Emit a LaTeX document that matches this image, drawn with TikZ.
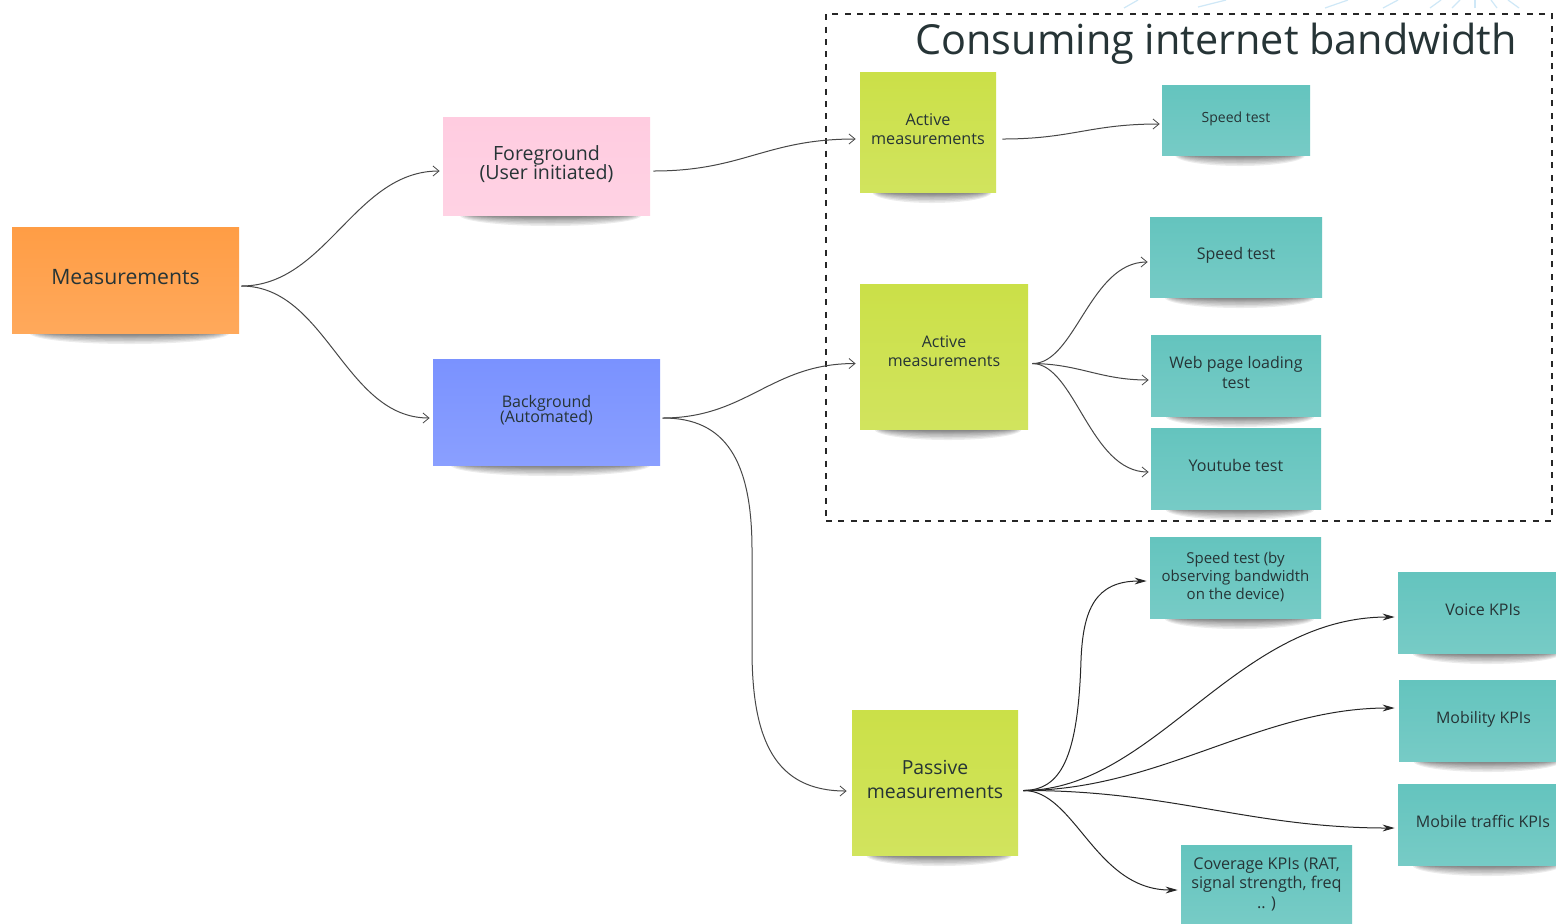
\documentclass[tikz,border=0pt]{standalone}
\usepackage{fontspec}
\setmainfont{Open Sans}
\usetikzlibrary{arrows.meta,calc}
\definecolor{cOrange}{HTML}{FF9D45}
\definecolor{cPink}{HTML}{FFCCE0}
\definecolor{cBlue}{HTML}{7A92FF}
\definecolor{cLime}{HTML}{CBE048}
\definecolor{cTeal}{HTML}{64C4BE}
\definecolor{cInk}{HTML}{263436}
\definecolor{cFrag}{HTML}{CFE8F7}
\tikzset{
  x=0.5pt,y=-0.5pt,
  note/.style={inner sep=0pt,align=center,text=cInk},
  conn/.style={draw=black!72,line width=0.5pt,-{Straight Barb[length=3pt,width=5pt,line width=0.4pt]}},
  connb/.style={draw=black!85,line width=0.5pt,-{Stealth[length=6pt,width=3.4pt]}},
  frame/.style={draw=black!85,line width=0.7pt,dashed,dash pattern=on 3pt off 3.2pt},
  frag/.style={draw=cFrag,line width=0.6pt}
}
% #1 name, #2 x1, #3 y1, #4 x2, #5 y2, #6 colour, #7 font size, #8 text, #9 text y offset
\newcommand{\stickynote}[9]{%
  \pgfmathsetmacro{\cxx}{(#2+#4)/2}%
  \pgfmathsetmacro{\wdd}{#4-#2}%
  \pgfmathsetmacro{\htt}{#5-#3}%
  \pgfmathsetmacro{\lss}{#7*1.2}%
  \foreach \ff/\hh in {0.88/11,0.86/9.5,0.84/8,0.82/6.5,0.80/5,0.78/4,0.75/3,0.70/2}{%
    \fill[black,opacity=0.075] ({\cxx+4},#5) ellipse [x radius={\wdd*\ff/2},y radius=\hh];
  }%
  \shade[top color=#6,bottom color=#6!88!white] (#2,#3) rectangle (#4,#5);%
  \node[note,minimum width={\wdd*0.5pt},minimum height={\htt*0.5pt}] (#1) at ({\cxx},{(#3+#5)/2}) {};%
  \node[note,font=\fontsize{#7}{\lss}\selectfont] at ($(#1.center)+(0,#9)$) {#8};%
}
\begin{document}
\begin{tikzpicture}
\useasboundingbox (0,0) rectangle (1556,923);
\fill[white] (0,0) rectangle (1556,923);
% faint fragments at the top edge
\draw[frag] (1124,8) -- (1138,0);
\draw[frag] (1198,7) -- (1226,0);
\draw[frag] (1325,8) -- (1348,0);
\draw[frag] (1383,8) -- (1398,0);
\draw[frag] (1430,8) -- (1441,0);
\draw[frag] (1452,8) -- (1460,0);
\draw[frag] (1475,8) -- (1475,0);
\draw[frag] (1497,8) -- (1491,0);
\draw[frag] (1519,8) -- (1508,0);
% frame
\node[frame,minimum width=363pt,minimum height=253.5pt,inner sep=0pt] (frame) at (1189,267.5) {};
\node[inner sep=0pt,text=cInk,font=\fontsize{20.7}{24}\selectfont] (title) at (1216,44) {Consuming internet bandwidth};
% notes
\stickynote{meas}{12}{227}{239}{333}{cOrange}{10.6}{Measurements}{-3}
\stickynote{fg}{443}{117}{650}{215}{cPink}{9.8}{Foreground\\[-2.2pt](User initiated)}{-1.5}
\stickynote{bg}{433}{359}{660}{465}{cBlue}{8}{Background\\[-2.1pt](Automated)}{-1.5}
\stickynote{actA}{860}{72}{996}{192}{cLime}{8.1}{Active\\measurements}{-3}
\stickynote{spdA}{1162}{85}{1310}{155}{cTeal}{7}{Speed test}{-1}
\stickynote{actB}{860}{284}{1028}{429}{cLime}{8}{Active\\measurements}{-5}
\stickynote{spdB}{1150}{217}{1322}{297}{cTeal}{8}{Speed test}{-2}
\stickynote{web}{1151}{335}{1321}{416}{cTeal}{8}{Web page loading\\test}{-3}
\stickynote{yt}{1151}{428}{1321}{509}{cTeal}{8.05}{Youtube test}{-3.5}
\stickynote{spdC}{1150}{537}{1321}{618}{cTeal}{7.5}{Speed test (by\\observing bandwidth\\on the device)}{-1}
\stickynote{pass}{852}{710}{1018}{855}{cLime}{9.7}{Passive\\measurements}{-3}
\stickynote{voice}{1398}{572}{1568}{653}{cTeal}{8}{Voice KPIs}{-3}
\stickynote{mob}{1399}{680}{1568}{761}{cTeal}{7.95}{Mobility KPIs}{-1}
\stickynote{traf}{1398}{784}{1568}{865}{cTeal}{8}{Mobile traffic KPIs}{-3}
\stickynote{cov}{1181}{845}{1352}{923}{cTeal}{8.1}{Coverage KPIs (RAT,\\signal strength, freq\\.. )}{0}
% connectors
\coordinate (busA) at (752,550);
\coordinate (busB) at (752,650);
\coordinate (spdTurn) at (1081,660);
\draw[conn] ([shift={(2,6)}]meas.east) .. controls +(85,0) and +(-85,0) .. ([shift={(-3,5)}]fg.west);
\draw[conn] ([shift={(2,6)}]meas.east) .. controls +(85,0) and +(-85,0) .. ([shift={(-3,6)}]bg.west);
\draw[conn] ([shift={(3,5)}]fg.east) .. controls +(90,0) and +(-90,0) .. ([shift={(-4,7)}]actA.west);
\draw[conn] ([shift={(2,6)}]bg.east) .. controls +(85,0) and +(-85,0) .. ([shift={(-4,7)}]actB.west);
\draw[conn] ([shift={(6,7)}]actA.east) .. controls +(70,0) and +(-70,0) .. ([shift={(-2,4)}]spdA.west);
\draw[conn] ([shift={(4,7)}]actB.east) .. controls (1075,364) and (1090,262) .. ([shift={(-2,5)}]spdB.west);
\draw[conn] ([shift={(4,7)}]actB.east) .. controls (1080,364) and (1100,380) .. ([shift={(-2,4.5)}]web.west);
\draw[conn] ([shift={(4,7)}]actB.east) .. controls (1075,364) and (1090,472) .. ([shift={(-2,3.5)}]yt.west);
\draw[connb] ([shift={(5,8)}]pass.east) .. controls (1060,790) and (1078,760) .. (spdTurn) .. controls (1083,610) and (1095,581) .. ([shift={(-3,3.5)}]spdC.west);
\draw[connb] ([shift={(5,8)}]pass.east) .. controls (1155,790) and (1235,617) .. ([shift={(-3,4.5)}]voice.west);
\draw[connb] ([shift={(5,8)}]pass.east) .. controls (1160,790) and (1260,708) .. ([shift={(-4,-12.5)}]mob.west);
\draw[connb] ([shift={(5,8)}]pass.east) .. controls (1170,790) and (1250,828) .. ([shift={(-3,3.5)}]traf.west);
\draw[connb] ([shift={(5,8)}]pass.east) .. controls (1075,790) and (1095,890) .. ([shift={(-3,6)}]cov.west);
\draw[conn] ([shift={(3,6)}]bg.east) .. controls (725,418) and (752,460) .. (busA) -- (busB) .. controls (752,740) and (775,791) .. ([shift={(-5,8.5)}]pass.west);
\end{tikzpicture}
\end{document}
